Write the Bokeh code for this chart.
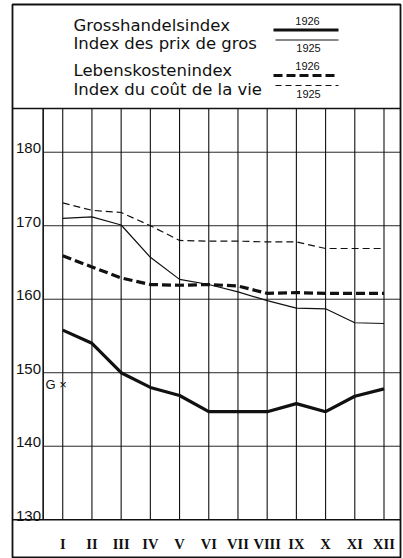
from bokeh.plotting import figure
from bokeh.models import Range1d
from bokeh.core.properties import value
from bokeh.embed import file_html
from bokeh.resources import INLINE

# ---- data ----
months = ["I", "II", "III", "IV", "V", "VI", "VII", "VIII", "IX", "X", "XI", "XII"]
wholesale_1926 = [155.8, 154.0, 150.0, 148.0, 146.9, 144.7, 144.7, 144.7, 145.8, 144.7, 146.8, 147.8]
wholesale_1925 = [171.0, 171.2, 170.1, 165.7, 162.7, 162.0, 161.0, 159.8, 158.8, 158.7, 156.8, 156.7]
cost_1926 = [165.9, 164.4, 162.9, 162.0, 161.9, 162.0, 161.8, 160.8, 160.9, 160.8, 160.8, 160.8]
cost_1925 = [173.1, 172.1, 171.8, 170.0, 168.0, 167.9, 167.9, 167.8, 167.8, 166.9, 166.9, 166.9]
y_ticks = [130, 140, 150, 160, 170, 180]
y_tick_labels = ["130", "140", "150", "160", "170", "180"]
legend_titles = ["Grosshandelsindex", "Index des prix de gros",
                 "Lebenskostenindex", "Index du coût de la vie"]
legend_years = ["1926", "1925", "1926", "1925"]
note_text = "G ×"
note_value = 148.4

month_pos = list(range(1, len(months) + 1))

# ---- layout ----
W, H = 403, 558
X_L, X_R = -0.72, 12.565
Y_B, Y_T = 124.86, 200.1
PLOT_TOP = 185.95
AXIS_X = 0.33
INK = "#111111"

p = figure(width=W, height=H, output_backend="svg", toolbar_location=None,
           x_axis_location=None, y_axis_location=None,
           x_range=Range1d(X_L, X_R), y_range=Range1d(Y_B, Y_T),
           min_border_left=12, min_border_right=3, min_border_top=4, min_border_bottom=1,
           outline_line_color=INK, outline_line_width=1.8,
           background_fill_color="white", border_fill_color="white")
p.grid.visible = False
p.extra_x_ranges = {"px": Range1d(12, 400)}
p.extra_y_ranges = {"px": Range1d(557, 4)}

# vertical month lines
p.segment(x0=month_pos, y0=y_ticks[0], x1=month_pos, y1=PLOT_TOP,
          line_color=INK, line_width=1.1)
# horizontal grid lines
p.segment(x0=AXIS_X, y0=y_ticks[1:], x1=X_R, y1=y_ticks[1:],
          line_color=INK, line_width=1.0, line_alpha=0.9)
# strip line and legend bottom line
p.segment(x0=X_L, y0=[y_ticks[0], PLOT_TOP], x1=X_R, y1=[y_ticks[0], PLOT_TOP],
          line_color=INK, line_width=1.6)
# value axis line
p.segment(x0=AXIS_X, y0=y_ticks[0], x1=AXIS_X, y1=PLOT_TOP,
          line_color=INK, line_width=1.6)

# y tick labels (sitting on their grid lines)
p.text(x=40.5, y=y_ticks, text=y_tick_labels, x_range_name="px",
       text_align="right", text_baseline="bottom", y_offset=1,
       text_font=value("Liberation Sans"), text_font_size="15px", text_color=INK)
# month labels
p.text(x=month_pos, y=543, text=months, y_range_name="px",
       text_align="center", text_baseline="middle",
       text_font=value("Liberation Serif"), text_font_style="bold",
       text_font_size="14.5px", text_color=INK)
# note
p.text(x=45, y=[note_value], text=[note_text], x_range_name="px",
       text_align="left", text_baseline="middle",
       text_font=value("Liberation Sans"), text_font_size="13px", text_color=INK)

# data lines
p.line(month_pos, wholesale_1925, line_color=INK, line_width=1.2)
p.line(month_pos, cost_1925, line_color=INK, line_width=1.2, line_dash="7 4")
p.line(month_pos, cost_1926, line_color=INK, line_width=3.2, line_dash="9 4")
p.line(month_pos, wholesale_1926, line_color=INK, line_width=3.2)

# legend (page-pixel coordinates)
p.text(x=73, y=[25, 43, 70, 89], text=legend_titles,
       x_range_name="px", y_range_name="px",
       text_align="left", text_baseline="middle",
       text_font=value("DejaVu Sans"), text_font_size="16.5px", text_color=INK)
p.text(x=[307, 308, 307, 308], y=[20, 47, 65.5, 93], text=legend_years,
       x_range_name="px", y_range_name="px",
       text_align="center", text_baseline="middle",
       text_font=value("Liberation Sans"), text_font_size="11px", text_color=INK)
p.line(x=[273, 338], y=[29.5, 29.5], x_range_name="px", y_range_name="px",
       line_color=INK, line_width=3.2)
p.line(x=[275, 338], y=[39.5, 39.5], x_range_name="px", y_range_name="px",
       line_color=INK, line_width=1.0)
p.line(x=[273, 338], y=[75, 75], x_range_name="px", y_range_name="px",
       line_color=INK, line_width=3.2, line_dash="9 4")
p.line(x=[275, 338], y=[85, 85], x_range_name="px", y_range_name="px",
       line_color=INK, line_width=1.0, line_dash="6 4")

open("out.html", "w").write(file_html(p, INLINE))
